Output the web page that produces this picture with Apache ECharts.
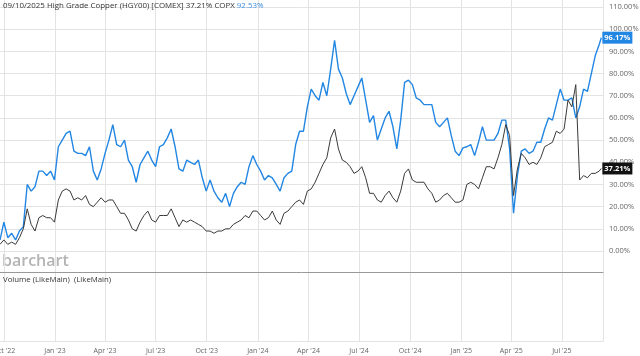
<!DOCTYPE html>
<html>
<head>
<meta charset="utf-8">
<script src="https://cdn.jsdelivr.net/npm/echarts@6.0.0/dist/echarts.min.js"></script>
<style>
html, body { margin: 0; padding: 0; background: #fff; }
#chart { width: 640px; height: 356px; }
</style>
</head>
<body>
<div id="chart"></div>
<script>
// weekly closes (percent change), first week 2022-09-24
var firstWeek = '2022-09-24';
var lastDate = '2025-09-10';

var copxVals = [
	5, 13, 6, 8, 5, 9, 11, 30, 27, 29,
	36, 36, 34, 36, 32, 47, 50, 53, 54, 45,
	44, 44, 43, 47, 36, 32, 37, 44, 50, 57,
	48, 47, 50, 41, 38, 31, 39, 42, 45, 41,
	38, 47, 48, 51, 55, 47, 37, 36, 41, 40,
	39, 41, 33, 27, 32, 27, 24, 22, 26, 20,
	26, 29, 31, 30, 38, 43, 39, 36, 32, 34,
	33, 30, 27, 33, 35, 36, 48, 54, 54, 65,
	73, 70, 68, 76, 70, 82, 95, 82, 78, 71,
	66, 70, 74, 78, 68, 58, 61, 50, 55, 60,
	63, 56, 46, 59, 76, 77, 75, 69, 68, 66,
	66, 66, 58, 56, 58, 60, 52, 45, 43, 46.5,
	47, 48, 43, 49, 56, 50, 50, 50, 53, 59,
	59, 46, 17, 34, 45, 46, 44, 45, 49, 49,
	55, 60, 59, 66, 73, 68, 68, 69, 60, 65,
	73, 72, 80, 88, 93,
	96.17
];

var copperVals = [
	3, 5, 3, 4, 3, 6, 10, 19, 12, 9,
	15, 16, 15, 15, 13, 23, 27, 28, 27, 23,
	24, 23, 25, 21, 20, 22, 24, 22, 23, 23,
	20, 17, 17, 14, 10, 9, 13, 16, 18, 14,
	13, 16, 16, 16, 19, 15, 11, 14, 13, 14,
	13, 12, 11, 9, 9, 8, 9, 9, 10, 10,
	12, 13, 14, 16, 15, 18, 18, 16, 14, 15,
	18, 14, 12, 17, 18, 20, 22, 23, 21, 27,
	28, 31, 35, 39, 42, 51, 55, 46, 41, 40,
	38, 35, 36, 38, 33, 26, 26, 23, 22, 25,
	27, 24, 22, 27, 35, 37, 32, 31, 31, 31,
	28, 26, 22, 23, 25, 26, 24, 22, 22, 23,
	30, 31, 30, 28, 33, 38, 38, 37, 42, 48,
	57, 52, 25, 37, 44, 42, 39, 40, 39, 42,
	47, 48, 49, 54, 53, 55, 68, 65, 75, 32,
	34, 33, 35, 35, 36,
	37.21
];

var quarterTicks = ['2022-10-01', '2023-01-01', '2023-04-01', '2023-07-01', '2023-10-01',
	'2024-01-01', '2024-04-01', '2024-07-01', '2024-10-01', '2025-01-01',
	'2025-04-01', '2025-07-01'];
var pctTicks = [0, 10, 20, 30, 40, 50, 60, 70, 80, 90, 100, 110];
var monthNames = ['Jan', 'Feb', 'Mar', 'Apr', 'May', 'Jun', 'Jul', 'Aug', 'Sep', 'Oct', 'Nov', 'Dec'];

(function() {
	function ts(s) {
		return new Date(s + 'T00:00:00').getTime();
	}
	var DAY = 86400000;
	var xs = [];
	for (var i = 0; i < copxVals.length - 1; i++) {
		xs.push(ts(firstWeek) + i * 7 * DAY);
	}
	xs.push(ts(lastDate));

	var copx = [], copper = [];
	for (var j = 0; j < xs.length; j++) {
		copx.push([xs[j], copxVals[j]]);
		copper.push([xs[j], copperVals[j]]);
	}
	var qTicks = quarterTicks.map(ts);

	var gridColor = '#e3e3e3';
	var font = 'Open Sans';
	var xMin = ts('2022-09-24'), xMax = ts('2025-09-13');

	var myChart = echarts.init(document.getElementById('chart'));
	var option = {
		animation : false,
		textStyle : { fontFamily : font },
		title : [ {
			left : 3,
			top : 2,
			padding : 0,
			text : '{a|09/10/2025 High Grade Copper (HGY00) [COMEX] 37.21% COPX }{b|92.53%}',
			textStyle : {
				fontWeight : 'normal',
				rich : {
					a : { fontSize : 7.9, color : '#333', fontWeight : 'normal', fontFamily : font },
					b : { fontSize : 7.9, color : '#3d8fe0', fontWeight : 'normal', fontFamily : font }
				}
			}
		}, {
			left : 3,
			top : 276,
			padding : 0,
			text : 'Volume (LikeMain)  (LikeMain)',
			textStyle : { fontSize : 7.8, color : '#333', fontWeight : 'normal', fontFamily : font }
		} ],
		graphic : [ {
			type : 'text',
			left : 2,
			top : 253,
			style : { text : 'barchart', fontSize : 16, fontWeight : 600, fill : '#b4b4b4', fontFamily : font }
		} ],
		grid : [
			// full height background: quarter lines + date labels
			{ left : 0, right : 37, top : 0, bottom : 15, outerBoundsMode : 'none' },
			// price panel
			{ left : 0, right : 37, top : 7, height : 244, outerBoundsMode : 'none' },
			// volume panel
			{ left : 0, right : 37, top : 272, bottom : 15, outerBoundsMode : 'none' }
		],
		xAxis : [ {
			gridIndex : 0,
			type : 'value',
			min : xMin,
			max : xMax,
			axisLine : { show : true, onZero : false, lineStyle : { color : gridColor } },
			// split lines follow the custom quarter ticks
			axisTick : { show : true, length : 0, customValues : qTicks },
			splitLine : { show : true, lineStyle : { color : gridColor, width : 1 } },
			axisLabel : {
				customValues : qTicks,
				fontSize : 7,
				color : '#666',
				margin : 6,
				formatter : function(v) {
					var d = new Date(v);
					return monthNames[d.getMonth()] + " '" + String(d.getFullYear()).slice(2);
				}
			}
		}, {
			gridIndex : 1,
			type : 'value',
			min : xMin,
			max : xMax,
			show : false
		}, {
			gridIndex : 2,
			type : 'value',
			min : xMin,
			max : xMax,
			position : 'top',
			axisLine : { show : true, onZero : false, lineStyle : { color : '#999' } },
			axisTick : { show : false },
			axisLabel : { show : false },
			splitLine : { show : false }
		} ],
		yAxis : [ {
			gridIndex : 0,
			type : 'value',
			position : 'right',
			min : 0,
			max : 1,
			axisLine : { show : true, onZero : false, lineStyle : { color : gridColor } },
			axisTick : { show : false },
			axisLabel : { show : false },
			splitLine : { show : false }
		}, {
			gridIndex : 1,
			type : 'value',
			position : 'right',
			min : pctTicks[0],
			max : pctTicks[pctTicks.length - 1],
			interval : 10,
			axisLine : { show : false },
			axisTick : { show : false },
			splitLine : { show : true, lineStyle : { color : gridColor } },
			axisLabel : {
				fontSize : 7.5,
				color : '#666',
				margin : 6,
				formatter : function(v) { return v.toFixed(2) + '%'; }
			}
		}, {
			gridIndex : 2,
			type : 'value',
			min : 0,
			max : 1,
			show : false
		} ],
		series : [ {
			name : 'COPX',
			type : 'line',
			xAxisIndex : 1,
			yAxisIndex : 1,
			data : copx,
			symbol : 'none',
			lineStyle : { color : '#2286e3', width : 1.4 },
			endLabel : {
				show : true,
				distance : 1,
				formatter : function(p) { return p.value[1].toFixed(2) + '%'; },
				backgroundColor : '#2286e3',
				color : '#fff',
				fontWeight : 'bold',
				fontSize : 7.5,
				padding : [ 2, 2 ]
			}
		}, {
			name : 'High Grade Copper',
			type : 'line',
			xAxisIndex : 1,
			yAxisIndex : 1,
			data : copper,
			symbol : 'none',
			lineStyle : { color : '#3a3a3a', width : 1 },
			endLabel : {
				show : true,
				distance : 1,
				formatter : function(p) { return p.value[1].toFixed(2) + '%'; },
				backgroundColor : '#111',
				color : '#fff',
				fontWeight : 'bold',
				fontSize : 7.5,
				padding : [ 2, 2 ]
			}
		} ]
	};
	myChart.setOption(option);
})();
</script>
</body>
</html>
